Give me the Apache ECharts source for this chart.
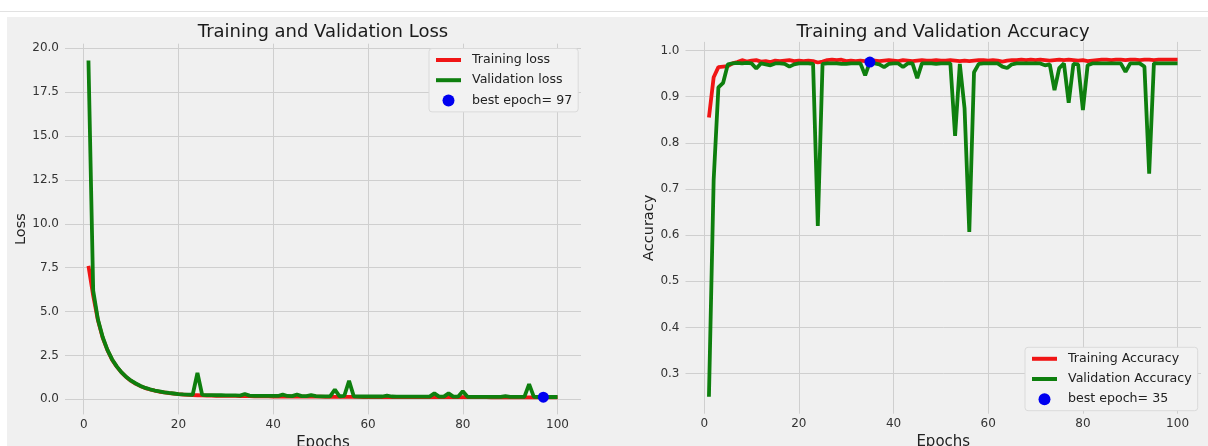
<!DOCTYPE html>
<html>
<head>
<meta charset="utf-8">
<script src="https://cdn.jsdelivr.net/npm/echarts@6/dist/echarts.min.js"></script>
<style>
html,body{margin:0;padding:0;background:#ffffff;}
#chart{width:1208px;height:446px;}
</style>
</head>
<body>
<div id="chart"></div>
<script>
// ---------------- data ----------------
const epochTicks = [0, 20, 40, 60, 80, 100];

const trainLoss = [
  7.6, 5.9, 4.5, 3.5, 2.8, 2.25, 1.85, 1.52, 1.26, 1.05,
  0.88, 0.75, 0.64, 0.56, 0.49, 0.43, 0.39, 0.35, 0.32, 0.29,
  0.27, 0.25, 0.24, 0.23, 0.22, 0.21, 0.21, 0.2, 0.2, 0.19,
  0.19, 0.19, 0.18, 0.18, 0.18, 0.17, 0.17, 0.17, 0.17, 0.16,
  0.16, 0.16, 0.16, 0.16, 0.15, 0.15, 0.15, 0.15, 0.15, 0.15,
  0.14, 0.14, 0.14, 0.14, 0.14, 0.14, 0.14, 0.14, 0.13, 0.13,
  0.13, 0.13, 0.13, 0.13, 0.13, 0.13, 0.13, 0.13, 0.13, 0.12,
  0.12, 0.12, 0.12, 0.12, 0.12, 0.12, 0.12, 0.12, 0.12, 0.12,
  0.12, 0.12, 0.12, 0.12, 0.12, 0.11, 0.11, 0.11, 0.11, 0.11,
  0.11, 0.11, 0.11, 0.11, 0.11, 0.11, 0.11, 0.11, 0.11, 0.11
];

const valLoss = [
  19.3, 6.2, 4.55, 3.55, 2.82, 2.27, 1.86, 1.53, 1.27, 1.06,
  0.9, 0.76, 0.65, 0.57, 0.5, 0.45, 0.4, 0.36, 0.33, 0.3,
  0.28, 0.27, 0.26, 1.5, 0.25, 0.24, 0.24, 0.23, 0.23, 0.22,
  0.22, 0.22, 0.21, 0.3, 0.21, 0.2, 0.2, 0.2, 0.19, 0.19,
  0.19, 0.27, 0.19, 0.18, 0.27, 0.18, 0.18, 0.24, 0.18, 0.17,
  0.17, 0.17, 0.55, 0.17, 0.2, 1.05, 0.17, 0.16, 0.16, 0.16,
  0.16, 0.16, 0.16, 0.21, 0.16, 0.15, 0.15, 0.15, 0.15, 0.15,
  0.15, 0.15, 0.15, 0.34, 0.15, 0.15, 0.34, 0.15, 0.15, 0.46,
  0.14, 0.14, 0.14, 0.14, 0.14, 0.14, 0.14, 0.14, 0.18, 0.14,
  0.14, 0.14, 0.14, 0.87, 0.14, 0.13, 0.12, 0.13, 0.13, 0.13
];

const trainAcc = [
  0.855, 0.942, 0.964, 0.965, 0.966, 0.972, 0.975, 0.979, 0.976, 0.978,
  0.979, 0.976, 0.977, 0.975, 0.978, 0.977, 0.978, 0.979, 0.977, 0.978,
  0.977, 0.978, 0.977, 0.974, 0.976, 0.979, 0.98, 0.979, 0.98, 0.977,
  0.978, 0.977, 0.978, 0.977, 0.976, 0.978, 0.977, 0.978, 0.979, 0.978,
  0.977, 0.979, 0.978, 0.977, 0.978, 0.979, 0.978, 0.978, 0.979, 0.978,
  0.978, 0.979, 0.978, 0.977, 0.978, 0.977, 0.978, 0.979, 0.979, 0.978,
  0.979, 0.978, 0.976, 0.978, 0.979, 0.979, 0.98, 0.979, 0.98, 0.979,
  0.98, 0.979, 0.978, 0.979, 0.98, 0.979, 0.98, 0.979, 0.978, 0.979,
  0.977, 0.978, 0.979, 0.98, 0.98, 0.979, 0.98, 0.98, 0.979, 0.98,
  0.98, 0.979, 0.98, 0.98, 0.979, 0.98, 0.98, 0.98, 0.98, 0.98
];

const valAcc = [
  0.25, 0.72, 0.92, 0.93, 0.97, 0.972, 0.973, 0.972, 0.973, 0.972,
  0.961, 0.972, 0.97, 0.968, 0.972, 0.972, 0.971, 0.965, 0.97, 0.972,
  0.972, 0.972, 0.971, 0.62, 0.971, 0.972, 0.972, 0.972, 0.971, 0.971,
  0.972, 0.972, 0.972, 0.946, 0.975, 0.972, 0.97, 0.964, 0.971, 0.972,
  0.972, 0.964, 0.972, 0.972, 0.94, 0.972, 0.972, 0.972, 0.971, 0.972,
  0.972, 0.972, 0.815, 0.971, 0.875, 0.607, 0.953, 0.971, 0.972, 0.972,
  0.972, 0.972, 0.965, 0.962, 0.97, 0.972, 0.972, 0.972, 0.972, 0.972,
  0.972, 0.968, 0.97, 0.914, 0.962, 0.972, 0.887, 0.971, 0.97, 0.871,
  0.968, 0.972, 0.972, 0.972, 0.972, 0.972, 0.972, 0.972, 0.954, 0.972,
  0.972, 0.972, 0.965, 0.733, 0.972, 0.972, 0.972, 0.972, 0.972, 0.972
];

const bestLossEpoch = 97;
const bestAccEpoch = 35;

const lossTitle = 'Training and Validation Loss';
const accTitle = 'Training and Validation Accuracy';
const lossNames = ['Training loss', 'Validation loss', 'best epoch= ' + bestLossEpoch];
const accNames = ['Training Accuracy', 'Validation Accuracy', 'best epoch= ' + bestAccEpoch];

// ---------------- styling ----------------
const FONT = 'DejaVu Sans';
const RED = '#f01515';
const GREEN = '#0e7f0e';
const BLUE = '#0000f0';
const GRIDC = '#cfcfcf';
const LW = 3.8;
const toXY = arr => arr.map((v, i) => [i + 1, v]);

function xAxisCfg(idx) {
  return {
    type: 'value', gridIndex: idx,
    min: -3.95, max: 104.95, minInterval: 20, maxInterval: 20,
    axisLine: {show: false}, axisTick: {show: false},
    splitLine: {show: true, showMinLine: false, showMaxLine: false, lineStyle: {color: GRIDC, width: 1}},
    axisLabel: {
      fontFamily: FONT, fontSize: 12, color: '#333', margin: 4,
      showMinLabel: false, showMaxLabel: false,
      formatter: v => (epochTicks.indexOf(v) >= 0 ? String(v) : '')
    },
    name: 'Epochs', nameLocation: 'middle', nameGap: 17,
    nameTextStyle: {fontFamily: FONT, fontSize: 15, color: '#222'}
  };
}

function yAxisCfg(idx, min, max, step, name, gap) {
  return {
    type: 'value', gridIndex: idx,
    min: min, max: max, minInterval: step, maxInterval: step,
    axisLine: {show: false}, axisTick: {show: false},
    splitLine: {show: true, showMinLine: false, showMaxLine: false, lineStyle: {color: GRIDC, width: 1}},
    axisLabel: {
      fontFamily: FONT, fontSize: 12, color: '#333', margin: 6,
      showMinLabel: false, showMaxLabel: false,
      formatter: v => v.toFixed(1)
    },
    name: name, nameLocation: 'middle', nameGap: gap,
    nameTextStyle: {fontFamily: FONT, fontSize: 14.5, color: '#222'}
  };
}

function legendCfg(names, left, top) {
  return {
    data: [
      {name: names[0], itemStyle: {opacity: 0}},
      {name: names[1], itemStyle: {opacity: 0}},
      {name: names[2]}
    ],
    orient: 'vertical', left: left, top: top,
    itemWidth: 25, itemHeight: 12, itemGap: 7.2,
    padding: [5, 6, 5, 5], selectedMode: false,
    lineStyle: {width: 4},
    backgroundColor: '#f2f2f2', borderColor: '#dadada', borderWidth: 1, borderRadius: 3,
    textStyle: {fontFamily: FONT, fontSize: 12.6, color: '#222', padding: [0, 0, 0, 6]}
  };
}

const option = {
  backgroundColor: '#f0f0f0',
  animation: false,
  graphic: [
    {type: 'rect', shape: {x: 0, y: 0, width: 1208, height: 17}, style: {fill: '#ffffff'}, silent: true},
    {type: 'rect', shape: {x: 0, y: 0, width: 7, height: 446}, style: {fill: '#ffffff'}, silent: true},
    {type: 'line', shape: {x1: 0, y1: 11.5, x2: 1208, y2: 11.5}, style: {stroke: '#e2e2e2', lineWidth: 1}, silent: true}
  ],
  title: [
    {text: lossTitle, left: 323, top: 23.5, textAlign: 'center', padding: 0,
     textStyle: {fontFamily: FONT, fontSize: 18, fontWeight: 'normal', color: '#1a1a1a'}},
    {text: accTitle, left: 943, top: 23.5, textAlign: 'center', padding: 0,
     textStyle: {fontFamily: FONT, fontSize: 18, fontWeight: 'normal', color: '#1a1a1a'}}
  ],
  legend: [legendCfg(lossNames, 429, 48.5), legendCfg(accNames, 1025, 347.3)],
  grid: [
    {left: 65, top: 43.7, width: 516, height: 370.7, containLabel: false, outerBoundsMode: 'none'},
    {left: 685.5, top: 41.9, width: 515.5, height: 371.8, containLabel: false, outerBoundsMode: 'none'}
  ],
  xAxis: [xAxisCfg(0), xAxisCfg(1)],
  yAxis: [
    yAxisCfg(0, -0.86, 20.26, 2.5, 'Loss', 36),
    yAxisCfg(1, 0.2134, 1.0186, 0.1, 'Accuracy', 28)
  ],
  series: [
    {type: 'line', name: lossNames[0], xAxisIndex: 0, yAxisIndex: 0, data: toXY(trainLoss),
     symbol: 'none', z: 2, lineStyle: {color: RED, width: LW}, itemStyle: {color: RED}},
    {type: 'line', name: lossNames[1], xAxisIndex: 0, yAxisIndex: 0, data: toXY(valLoss),
     symbol: 'none', z: 3, lineStyle: {color: GREEN, width: LW}, itemStyle: {color: GREEN}},
    {type: 'scatter', name: lossNames[2], xAxisIndex: 0, yAxisIndex: 0,
     data: [[bestLossEpoch, valLoss[bestLossEpoch - 1]]], symbolSize: 11, z: 4,
     itemStyle: {color: BLUE, opacity: 1}},
    {type: 'line', name: accNames[0], xAxisIndex: 1, yAxisIndex: 1, data: toXY(trainAcc),
     symbol: 'none', z: 2, lineStyle: {color: RED, width: LW}, itemStyle: {color: RED}},
    {type: 'line', name: accNames[1], xAxisIndex: 1, yAxisIndex: 1, data: toXY(valAcc),
     symbol: 'none', z: 3, lineStyle: {color: GREEN, width: LW}, itemStyle: {color: GREEN}},
    {type: 'scatter', name: accNames[2], xAxisIndex: 1, yAxisIndex: 1,
     data: [[bestAccEpoch, valAcc[bestAccEpoch - 1]]], symbolSize: 11, z: 4,
     itemStyle: {color: BLUE, opacity: 1}}
  ]
};

const chart = echarts.init(document.getElementById('chart'), null, {renderer: 'canvas'});
chart.setOption(option);
</script>
</body>
</html>
